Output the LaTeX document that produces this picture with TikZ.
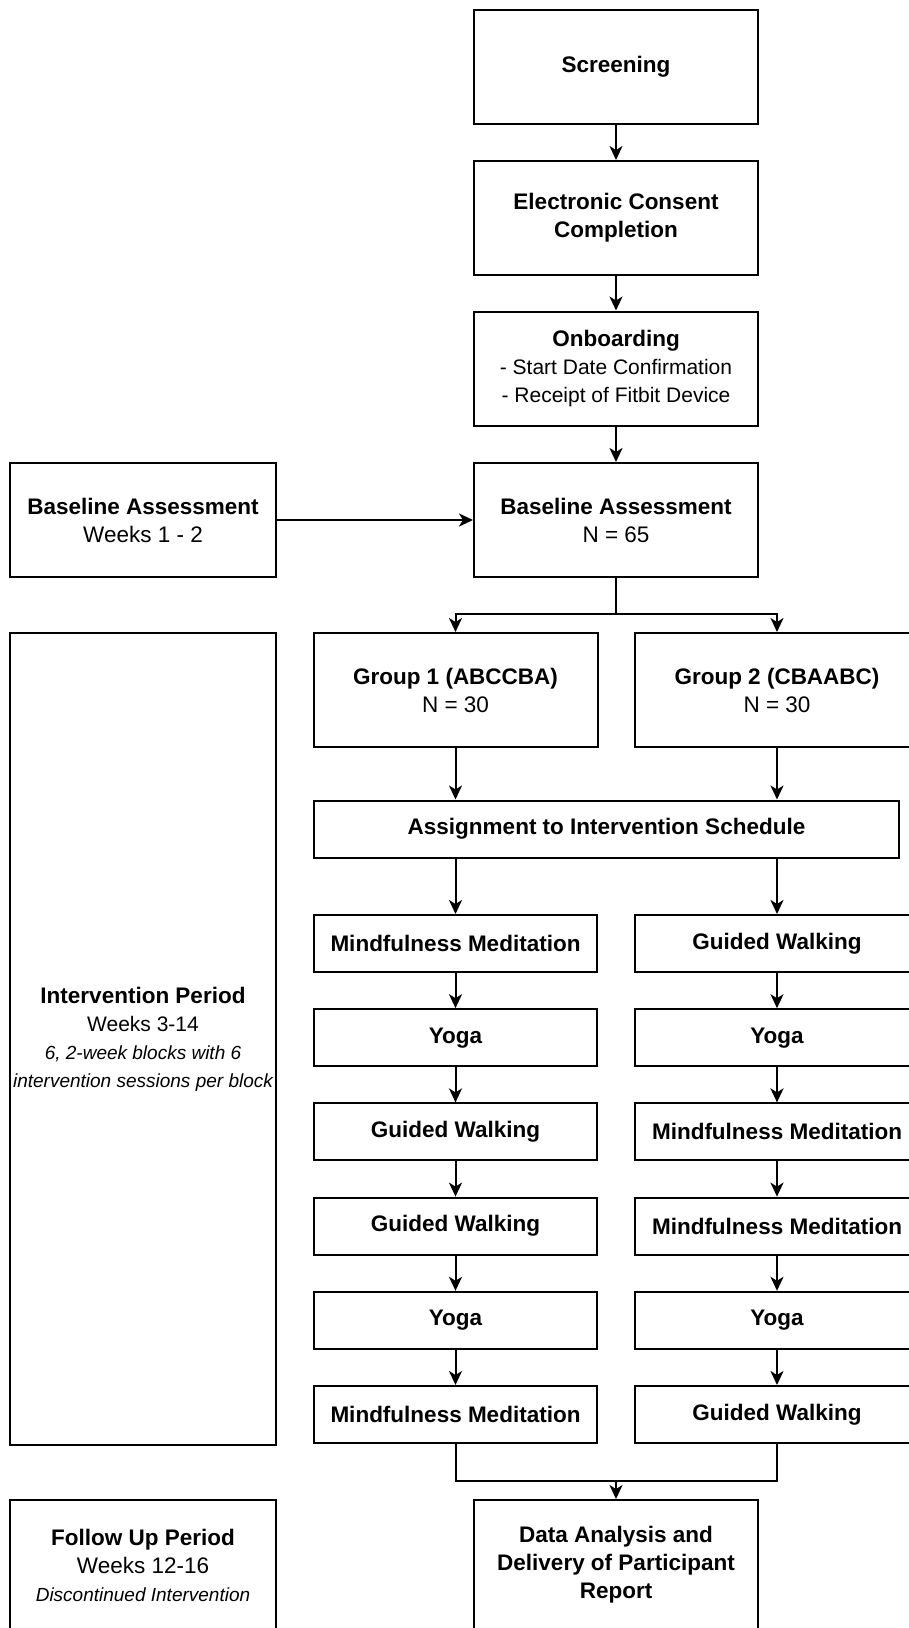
\documentclass[tikz,border=0pt]{standalone}
\usepackage{fontspec}
\setmainfont{Liberation Sans}
\usetikzlibrary{arrows.meta}

\newcommand{\subline}[1]{{\mdseries\fontsize{21}{27.5}\selectfont #1}}
\newcommand{\noteline}[1]{{\mdseries\itshape\fontsize{19}{26}\selectfont #1}}

\begin{document}
\begin{tikzpicture}[x=1pt, y=-1pt, line width=2pt,
  box/.style={draw, align=center, inner sep=0pt,
    font=\bfseries\fontsize{22.5}{28}\selectfont,
    minimum width=284pt, minimum height=114pt},
  sidebox/.style={box, minimum width=266pt},
  stepbox/.style={box, minimum height=57pt},
  >={Stealth[length=14pt, width=13pt, inset=4pt]}]
\clip (0,0) rectangle (909,1628);

% main column
\node[box] (screen) at (616,67) {Screening};
\node[box] (consent) at (616,218) {Electronic Consent\\Completion};
\node[box] (onboard) at (616,368.5) {Onboarding\\\subline{- Start Date Confirmation}\\\subline{- Receipt of Fitbit Device}};
\node[box] (base) at (616,520) {Baseline Assessment\\{\mdseries N = 65}};
\node[box] (grp1) at (455.5,690) {Group 1 (ABCCBA)\\{\mdseries N = 30}};
\node[box] (grp2) at (777,690) {Group 2 (CBAABC)\\{\mdseries N = 30}};
\node[stepbox, minimum width=585pt] (assign) at (606.5,829) {Assignment to Intervention Schedule};
\foreach \i/\ta/\tb in {1/Mindfulness Meditation/Guided Walking,
    2/Yoga/Yoga,
    3/Guided Walking/Mindfulness Meditation,
    4/Guided Walking/Mindfulness Meditation,
    5/Yoga/Yoga,
    6/Mindfulness Meditation/Guided Walking} {
  \node[stepbox, minimum width=283pt] (a\i) at (455.5,849.3+94.2*\i) {\ta};
  \node[stepbox] (b\i) at (777,849.3+94.2*\i) {\tb};
}
\node[box, minimum height=130pt] (report) at (616,1565) {Data Analysis and\\Delivery of Participant\\Report};

% periods on the left
\node[sidebox] (baseweeks) at (143,520) {Baseline Assessment\\{\mdseries Weeks 1 - 2}};
\node[sidebox, minimum height=812pt] (interv) at (143,1039) {Intervention Period\\\subline{Weeks 3-14}\\\noteline{6, 2-week blocks with 6}\\\noteline{intervention sessions per block}};
\node[sidebox, minimum height=130pt] (follow) at (143,1565) {Follow Up Period\\{\mdseries Weeks 12-16}\\\noteline{Discontinued Intervention}};

% connectors
\draw[->] (screen) -- (consent);
\draw[->] (consent) -- (onboard);
\draw[->] (onboard) -- (base);
\draw[->] (baseweeks) -- (base);
\coordinate (split) at (616,614);
\draw (base) -- (split);
\draw[->] (split) -| (grp1);
\draw[->] (split) -| (grp2);
\draw[->] (grp1) -- (grp1 |- assign.north);
\draw[->] (grp2) -- (grp2 |- assign.north);
\draw[->] (assign.south -| a1) -- (a1);
\draw[->] (assign.south -| b1) -- (b1);
\foreach \i/\j in {1/2,2/3,3/4,4/5,5/6} {
  \draw[->] (a\i) -- (a\j);
  \draw[->] (b\i) -- (b\j);
}
\coordinate (merge) at (616,1481);
\draw (a6) |- (merge) -| (b6);
\draw[->] (merge) -- (report);
\end{tikzpicture}
\end{document}
